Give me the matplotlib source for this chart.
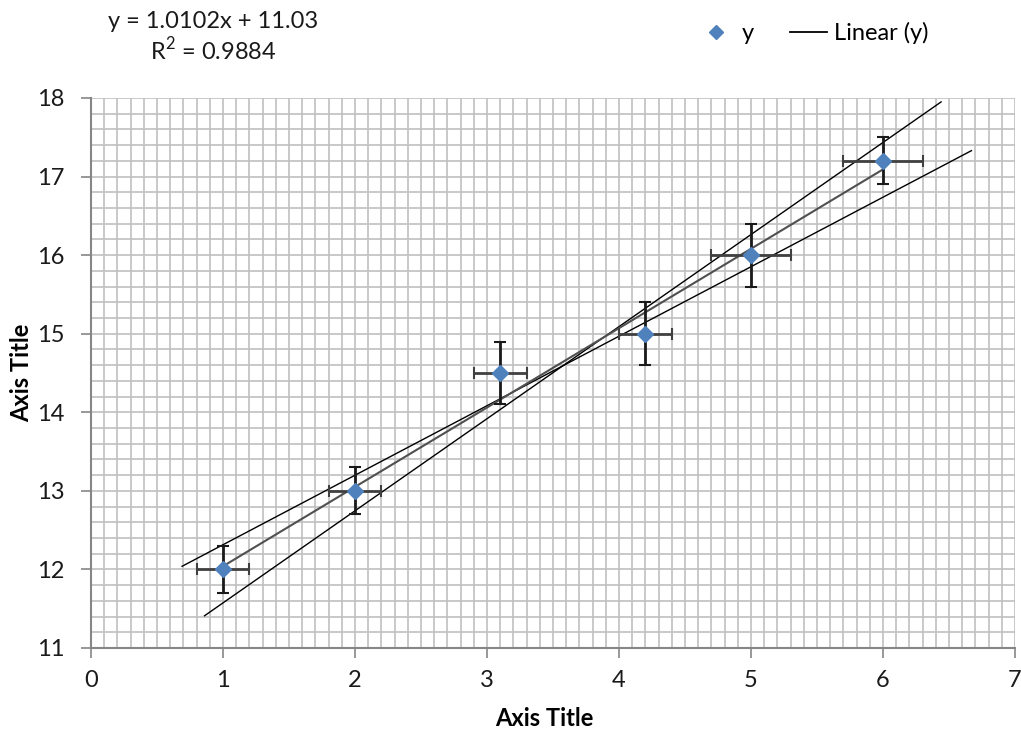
import matplotlib
matplotlib.use("Agg")
import matplotlib.pyplot as plt
from matplotlib.ticker import MultipleLocator
from matplotlib.lines import Line2D
import numpy as np

plt.rcParams['font.family'] = ['Lato', 'DejaVu Sans']
plt.rcParams['mathtext.fontset'] = 'custom'
plt.rcParams['mathtext.rm'] = 'Lato'

# data
x = [1, 2, 3.1, 4.2, 5, 6]
y = [12, 13, 14.5, 15, 16, 17.2]
x_err = [0.2, 0.2, 0.2, 0.2, 0.3, 0.3]
y_err = [0.3, 0.3, 0.4, 0.4, 0.4, 0.3]

# trendline from the equation label
slope = 1.0102
intercept = 11.03
r2 = 0.9884

# hand drawn min / max slope lines (endpoints)
min_line_x = [0.69, 6.67]
min_line_y = [12.04, 17.33]
max_line_x = [0.86, 6.44]
max_line_y = [11.41, 17.95]

fig = plt.figure(figsize=(10.21, 7.29), dpi=100)
ax = fig.add_axes([91/1021, 1 - 648/729, (1015 - 91)/1021, (648 - 98)/729])

ax.set_xlim(0, 7)
ax.set_ylim(11, 18)
ax.xaxis.set_major_locator(MultipleLocator(1))
ax.yaxis.set_major_locator(MultipleLocator(1))
ax.xaxis.set_minor_locator(MultipleLocator(0.1))
ax.yaxis.set_minor_locator(MultipleLocator(0.2))
ax.grid(which='both', color='#c0c0c0', linewidth=1.2)
ax.set_axisbelow(True)
ax.tick_params(which='minor', length=0)
ax.tick_params(which='major', direction='out', length=7, width=1.2, color='#868686',
               labelsize=17, colors='#1a1a1a')
ax.tick_params(axis='x', pad=9)
ax.tick_params(axis='y', pad=12)
for s in ['top', 'right']:
    ax.spines[s].set_visible(False)
for s in ['left', 'bottom']:
    ax.spines[s].set_color('#868686')
    ax.spines[s].set_linewidth(1.5)

# min/max lines
ax.plot(min_line_x, min_line_y, color='black', linewidth=1.0, zorder=3)
ax.plot(max_line_x, max_line_y, color='black', linewidth=1.0, zorder=3)

# trendline over data range
tx = np.array([min(x), max(x)])
ax.plot(tx, slope * tx + intercept, color='#505050', linewidth=1.5, zorder=3)

# error bars
ax.errorbar(x, y, xerr=x_err, fmt='none', ecolor='#404040', elinewidth=2,
            capsize=4, capthick=1.5, zorder=4)
ax.errorbar(x, y, yerr=y_err, fmt='none', ecolor='#1a1a1a', elinewidth=2,
            capsize=4, capthick=1.5, zorder=4)
ax.plot(x, y, linestyle='none', marker='D', markersize=8, color='#4f81bd', zorder=5)

# axis titles
fig.text(544/1021, 1 - 718/729, 'Axis Title', ha='center', va='center',
         fontsize=17, fontweight='bold', color='black')
fig.text(22/1021, 1 - 373/729, 'Axis Title', ha='center', va='center', rotation=90,
         fontsize=17, fontweight='bold', color='black')

# equation label
fig.text(213/1021, 1 - 22/729, 'y = %.4fx + %.2f' % (slope, intercept),
         ha='center', va='center', fontsize=17, color='#1a1a1a')
fig.text(213/1021, 1 - 50/729, r'R$^\mathregular{2}$ = %.4f' % r2,
         ha='center', va='center', fontsize=17, color='#1a1a1a')

# legend
handles = [Line2D([], [], linestyle='none', marker='D', markersize=7, color='#4f81bd'),
           Line2D([], [], color='black', linewidth=1.3)]
fig.legend(handles, ['y', 'Linear (y)'], loc='center', bbox_to_anchor=(813/1021, 1 - 33/729),
           ncol=2, frameon=False, fontsize=17, handlelength=1.6, handletextpad=0.3,
           columnspacing=1.5)

fig.savefig('out.png', dpi=100)
